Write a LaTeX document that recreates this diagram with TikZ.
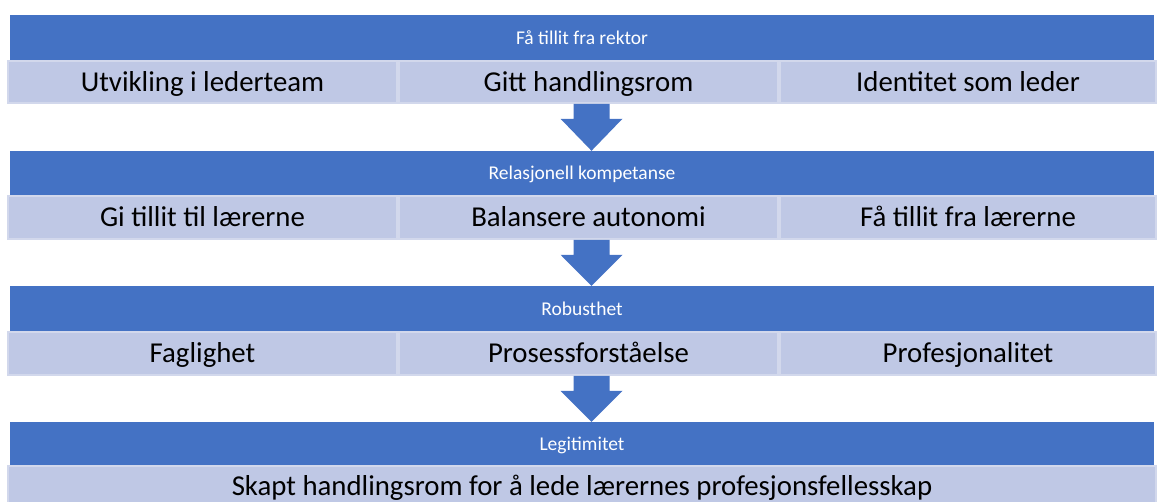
\documentclass[tikz,border=0pt]{standalone}
\usepackage{fontspec}
\setmainfont{Carlito}
\usetikzlibrary{calc}
\definecolor{barblue}{RGB}{68,114,196}
\definecolor{cellfill}{RGB}{191,200,229}
\definecolor{cellline}{RGB}{210,216,236}
\tikzset{
  bar/.style={fill=barblue,text=white,minimum width=1144pt,inner sep=0pt,
    text height=12.6pt,text depth=0pt,font=\fontsize{19.5}{22}\selectfont},
  cell/.style={fill=cellfill,draw=cellline,line width=1.5pt,inner sep=0pt,
    text height=18.7pt,text depth=0pt,font=\fontsize{28.8}{34}\selectfont},
  downarrow/.style={fill=barblue}
}
\begin{document}
\begin{tikzpicture}[x=1pt,y=-1pt]
\useasboundingbox (0,0) rectangle (1164,501);
\clip (0,0) rectangle (1164,501);
% first block
\node[bar,minimum height=46pt] (h1) at (582,38) {Få tillit fra rektor};
\node[cell,minimum width=389pt,minimum height=42pt] (c11) at (202.5,82) {Utvikling i lederteam};
\node[cell,minimum width=379pt,minimum height=42pt] (c12) at (588.5,82) {Gitt handlingsrom};
\node[cell,minimum width=376pt,minimum height=42pt] (c13) at (968,82) {Identitet som leder};
% second block
\node[bar,minimum height=45pt] (h2) at (582,173.5) {Relasjonell kompetanse};
\node[cell,minimum width=389pt,minimum height=43pt] (c21) at (202.5,217.5) {Gi tillit til lærerne};
\node[cell,minimum width=379pt,minimum height=43pt] (c22) at (588.5,217.5) {Balansere autonomi};
\node[cell,minimum width=376pt,minimum height=43pt] (c23) at (968,217.5) {Få tillit fra lærerne};
% third block
\node[bar,minimum height=46pt] (h3) at (582,309) {Robusthet};
\node[cell,minimum width=389pt,minimum height=43pt] (c31) at (202.5,353.5) {Faglighet};
\node[cell,minimum width=379pt,minimum height=43pt] (c32) at (588.5,353.5) {Prosessforståelse};
\node[cell,minimum width=376pt,minimum height=43pt] (c33) at (968,353.5) {Profesjonalitet};
% fourth block
\node[bar,minimum height=44pt] (h4) at (582,444) {Legitimitet};
\node[cell,minimum width=1148pt,minimum height=40pt] (c41) at (582,486) {Skapt handlingsrom for å lede lærernes profesjonsfellesskap};
% arrows between the blocks
\foreach \a/\b in {c12/h2,c22/h3,c32/h4}{
  \coordinate (top) at ($(\a.south)+(3,0)$);
  \coordinate (tip) at ($(\a.south|-\b.north)+(3,0)$);
  \fill[downarrow] ($(top)+(-18,0)$) -- ($(top)+(18,0)$) -- ($(top)+(18,15)$)
    -- ($(top)+(31,15)$) -- (tip) -- ($(top)+(-31,15)$) -- ($(top)+(-18,15)$) -- cycle;
}
\end{tikzpicture}
\end{document}
